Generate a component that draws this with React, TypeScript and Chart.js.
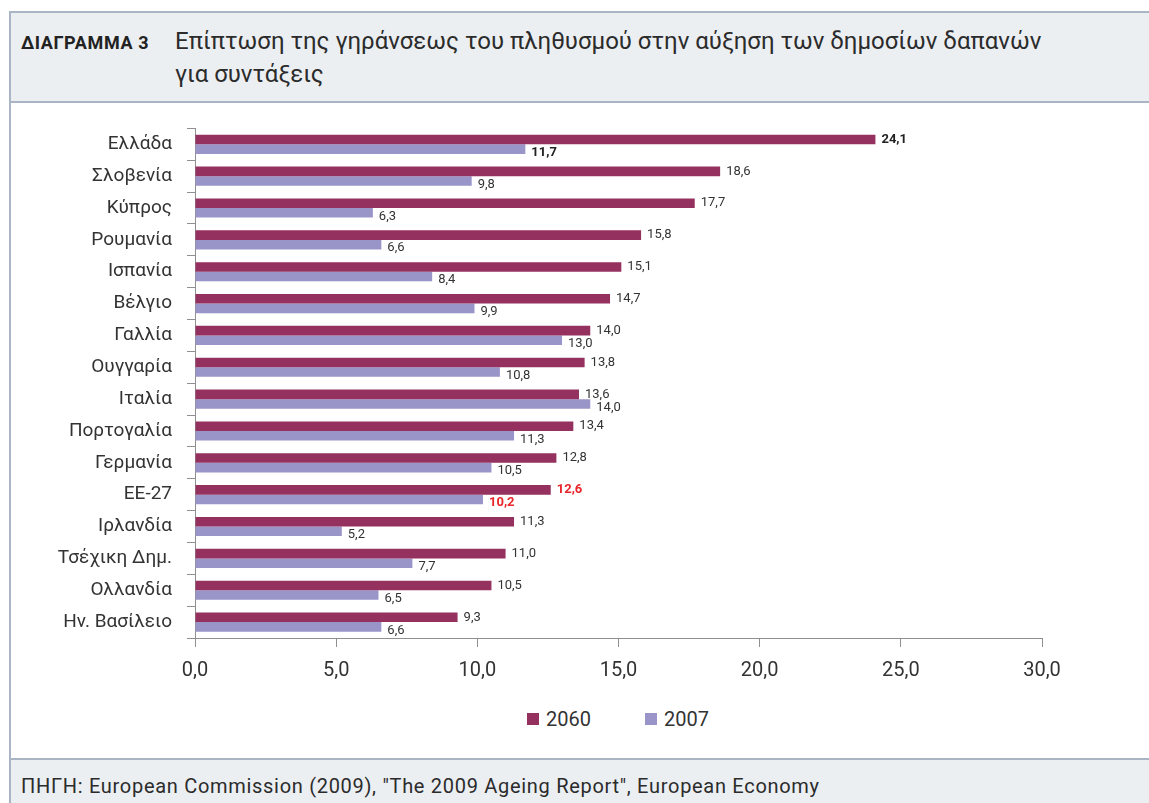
import React, { useEffect, useRef } from "react";
import { Chart, registerables } from "chart.js";

Chart.register(...registerables);

const categories = [
  "Ελλάδα",
  "Σλοβενία",
  "Κύπρος",
  "Ρουμανία",
  "Ισπανία",
  "Βέλγιο",
  "Γαλλία",
  "Ουγγαρία",
  "Ιταλία",
  "Πορτογαλία",
  "Γερμανία",
  "ΕΕ-27",
  "Ιρλανδία",
  "Τσέχικη Δημ.",
  "Ολλανδία",
  "Ην. Βασίλειο",
];
const values2060 = [24.1, 18.6, 17.7, 15.8, 15.1, 14.7, 14.0, 13.8, 13.6, 13.4, 12.8, 12.6, 11.3, 11.0, 10.5, 9.3];
const values2007 = [11.7, 9.8, 6.3, 6.6, 8.4, 9.9, 13.0, 10.8, 14.0, 11.3, 10.5, 10.2, 5.2, 7.7, 6.5, 6.6];
const seriesNames = ["2060", "2007"];
const seriesColors = ["#95315f", "#9995c9"];
const xTicks = [0, 5, 10, 15, 20, 25, 30];

const boldDarkIndex = 0;
const highlightIndex = 11;

const FONT = "Roboto";
const fmt = (v: number) => v.toFixed(1).replace(".", ",");

const valueLabels = {
  id: "valueLabels",
  afterDatasetsDraw(chart: any) {
    const ctx = chart.ctx;
    ctx.save();
    ctx.textBaseline = "middle";
    ctx.textAlign = "left";
    chart.data.datasets.forEach((ds: any, di: number) => {
      const meta = chart.getDatasetMeta(di);
      meta.data.forEach((bar: any, i: number) => {
        const v = ds.data[i];
        let color = "#333333";
        let weight = "400";
        if (i === boldDarkIndex) {
          weight = "700";
          color = "#222222";
        }
        if (i === highlightIndex) {
          weight = "700";
          color = "#e8262b";
        }
        ctx.font = `${weight} 13px ${FONT}`;
        ctx.fillStyle = color;
        const dy = di === 0 ? 0 : 3.5;
        ctx.fillText(fmt(v), bar.x + 6, bar.y + dy);
      });
    });
    ctx.restore();
  },
};

function BarChart() {
  const ref = useRef<HTMLCanvasElement | null>(null);
  useEffect(() => {
    if (!ref.current) return;
    const chart = new Chart(ref.current, {
      type: "bar",
      data: {
        labels: categories,
        datasets: [
          {
            label: seriesNames[0],
            data: values2060,
            backgroundColor: seriesColors[0],
            categoryPercentage: 0.6,
            barPercentage: 1.0,
          },
          {
            label: seriesNames[1],
            data: values2007,
            backgroundColor: seriesColors[1],
            categoryPercentage: 0.6,
            barPercentage: 1.0,
          },
        ],
      },
      options: {
        indexAxis: "y",
        animation: false,
        responsive: false,
        maintainAspectRatio: false,
        layout: { padding: { top: 25, right: 107, bottom: 0, left: 0 } },
        plugins: {
          legend: { display: false },
          tooltip: { enabled: false },
        },
        scales: {
          x: {
            min: 0,
            max: 30,
            afterBuildTicks: (scale: any) => {
              scale.ticks = xTicks.map((v) => ({ value: v }));
            },
            afterFit: (scale: any) => {
              scale.height = 62;
            },
            grid: {
              display: true,
              drawOnChartArea: false,
              drawTicks: true,
              tickLength: 9,
              color: "#8f8f8f",
            },
            border: { display: true, color: "#8f8f8f", width: 1 },
            ticks: {
              padding: 12,
              color: "#333333",
              font: { family: FONT, size: 20 },
              callback: (v: any) => fmt(Number(v)),
            },
          },
          y: {
            offset: true,
            afterFit: (scale: any) => {
              scale.width = 195;
            },
            grid: {
              display: true,
              offset: true,
              drawOnChartArea: false,
              drawTicks: true,
              tickLength: 8,
              color: "#8f8f8f",
            },
            border: { display: true, color: "#8f8f8f", width: 1 },
            ticks: {
              padding: 15,
              color: "#333333",
              font: { family: FONT, size: 19 },
            },
          },
        },
      },
      plugins: [valueLabels],
    } as any);
    return () => chart.destroy();
  }, []);
  return <canvas ref={ref} width={1149} height={598} style={{ display: "block" }} />;
}

export default function App() {
  const lineColor = "#a9b5c4";
  const bg = "#eceff2";
  return (
    <div
      style={{
        position: "fixed",
        left: 0,
        top: 0,
        width: 1149,
        height: 803,
        overflow: "hidden",
        background: "#ffffff",
        fontFamily: FONT,
        color: "#2b2b2b",
      }}
    >
      <div
        style={{
          position: "absolute",
          left: 9,
          top: 11,
          width: 1200,
          height: 800,
          borderLeft: `2px solid ${lineColor}`,
          borderTop: `2px solid ${lineColor}`,
        }}
      />
      <div
        style={{
          position: "absolute",
          left: 11,
          top: 13,
          width: 1200,
          height: 88,
          background: bg,
          borderBottom: `2px solid ${lineColor}`,
        }}
      />
      <div
        style={{
          position: "absolute",
          left: 21,
          top: 34,
          fontSize: 18,
          lineHeight: "18px",
          fontWeight: 700,
          letterSpacing: 0.6,
          color: "#222222",
          whiteSpace: "nowrap",
        }}
      >
        ΔΙΑΓΡΑΜΜΑ 3
      </div>
      <div
        style={{
          position: "absolute",
          left: 175,
          top: 25,
          fontSize: 24,
          lineHeight: "33px",
          color: "#2b2b2b",
          whiteSpace: "nowrap",
        }}
      >
        <div>Επίπτωση της γηράνσεως του πληθυσμού στην αύξηση των δημοσίων δαπανών</div>
        <div>για συντάξεις</div>
      </div>

      <div style={{ position: "absolute", left: 0, top: 102, width: 1149, height: 598 }}>
        <BarChart />
      </div>

      <div
        style={{
          position: "absolute",
          top: 708,
          left: 0,
          width: 1149,
          height: 22,
          fontSize: 20,
          lineHeight: "22px",
          color: "#333333",
        }}
      >
        {seriesNames.map((name, i) => (
          <div
            key={name}
            style={{
              position: "absolute",
              left: i === 0 ? 527 : 645,
              top: 0,
              display: "flex",
              alignItems: "center",
              whiteSpace: "nowrap",
            }}
          >
            <span
              style={{
                display: "inline-block",
                width: 12,
                height: 12,
                background: seriesColors[i],
                marginRight: 7,
              }}
            />
            <span>{name}</span>
          </div>
        ))}
      </div>

      <div
        style={{
          position: "absolute",
          left: 11,
          top: 758,
          width: 1200,
          height: 60,
          background: bg,
          borderTop: `2px solid ${lineColor}`,
        }}
      />
      <div
        style={{
          position: "absolute",
          left: 21,
          top: 776,
          fontSize: 20,
          lineHeight: "20px",
          letterSpacing: 0.7,
          color: "#2b2b2b",
          whiteSpace: "nowrap",
        }}
      >
        ΠΗΓΗ: European Commission (2009), "The 2009 Ageing Report", European Economy
      </div>
    </div>
  );
}
